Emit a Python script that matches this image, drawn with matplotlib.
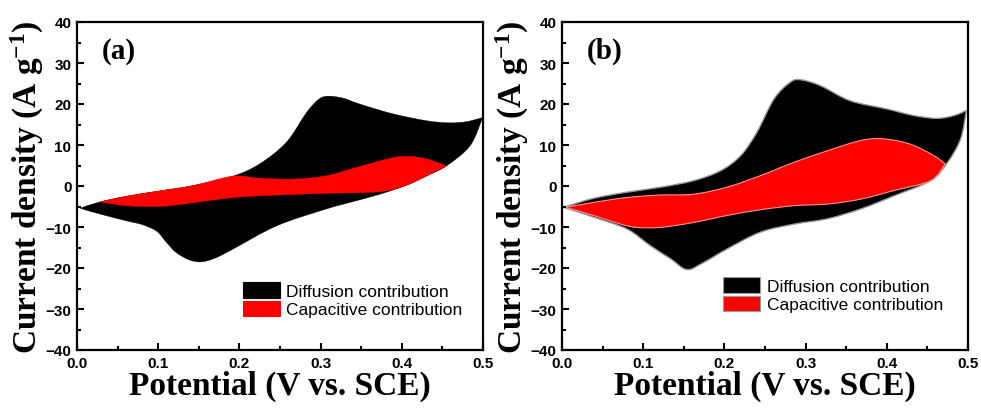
import numpy as np
import matplotlib
matplotlib.use('Agg')
from matplotlib import pyplot as plt
from matplotlib.patches import Patch, PathPatch
from matplotlib.path import Path

plt.rcParams['mathtext.fontset'] = 'custom'
plt.rcParams['mathtext.bf'] = 'Liberation Serif:bold'
plt.rcParams['mathtext.rm'] = 'Liberation Serif:bold'
plt.rcParams['mathtext.default'] = 'bf'

# full CV loop (a): anodic sweep 0 -> 0.5 V, then cathodic sweep back
a_up_v = [0.004, 0.028, 0.061, 0.102, 0.143, 0.192, 0.225, 0.258, 0.283, 0.298, 0.310,
          0.328, 0.348, 0.389, 0.431, 0.459, 0.480, 0.4996]
a_up_i = [-5.4, -3.9, -2.5, -1.2, 0.1, 2.4, 5.4, 10.7, 18.0, 21.2, 21.9,
          21.4, 20.0, 17.6, 15.9, 15.4, 15.7, 16.7]
a_down_v = [0.4996, 0.484, 0.455, 0.431, 0.406, 0.373, 0.340, 0.307, 0.246, 0.192, 0.170,
            0.153, 0.138, 0.122, 0.110, 0.098, 0.080, 0.061, 0.020, 0.004]
a_down_i = [16.7, 9.8, 4.9, 2.5, 0.2, -2.0, -3.8, -5.6, -9.7, -15.4, -17.6,
            -18.5, -18.0, -16.2, -13.7, -11.0, -9.4, -8.5, -6.4, -5.4]

# capacitive part (a)
a_cap_up_v = [0.028, 0.061, 0.102, 0.143, 0.192, 0.225, 0.266, 0.307, 0.349, 0.389, 0.410,
              0.431, 0.455]
a_cap_up_i = [-3.9, -2.5, -1.2, 0.1, 2.4, 1.9, 1.7, 2.5, 4.8, 6.9, 7.2,
              6.6, 4.9]
a_cap_down_v = [0.455, 0.431, 0.406, 0.373, 0.307, 0.225, 0.184, 0.143, 0.102, 0.061, 0.028]
a_cap_down_i = [4.9, 2.5, 0.2, -1.4, -1.8, -2.4, -3.0, -4.1, -5.0, -4.8, -3.9]

# full CV loop (b)
b_up_v = [0.002, 0.039, 0.080, 0.121, 0.162, 0.195, 0.220, 0.240, 0.261, 0.281, 0.294,
          0.318, 0.355, 0.400, 0.433, 0.462, 0.483, 0.498]
b_up_i = [-5.2, -3.0, -1.5, -0.3, 1.3, 3.7, 7.4, 13.1, 21.2, 25.3, 25.9,
          24.5, 20.8, 18.8, 17.2, 16.5, 17.2, 18.4]
b_down_v = [0.498, 0.491, 0.475, 0.454, 0.409, 0.368, 0.327, 0.286, 0.244, 0.203, 0.175,
            0.154, 0.134, 0.109, 0.080, 0.039, 0.002]
b_down_i = [18.4, 11.5, 5.8, 1.3, -2.4, -5.6, -8.0, -9.3, -11.3, -15.4, -18.6,
            -20.4, -17.8, -14.6, -10.5, -7.6, -5.2]

# capacitive part (b)
b_cap_up_v = [0.004, 0.039, 0.080, 0.121, 0.162, 0.203, 0.244, 0.286, 0.327, 0.368, 0.396,
              0.429, 0.458, 0.472]
b_cap_up_i = [-5.2, -4.0, -2.8, -2.2, -2.0, -0.3, 2.5, 5.8, 8.6, 11.1, 11.5,
              10.2, 7.4, 5.4]
b_cap_down_v = [0.472, 0.454, 0.409, 0.368, 0.327, 0.286, 0.244, 0.203, 0.162, 0.121, 0.092,
                0.072, 0.039, 0.004]
b_cap_down_i = [5.4, 1.3, -1.1, -3.2, -4.4, -4.8, -5.8, -7.2, -8.9, -10.1, -10.1,
                -9.3, -7.2, -5.2]

legend_labels = ['Diffusion contribution', 'Capacitive contribution']
panel_labels = ['(a)', '(b)']

serif = 'Liberation Serif'
sans = 'Liberation Sans'


def smooth_loop(branches):
    # closed path; each branch drawn as Catmull-Rom style bezier through its points
    verts, codes = [], []
    for k, (xs, ys) in enumerate(branches):
        p = np.column_stack([xs, ys]).astype(float)
        if k == 0:
            verts.append(p[0])
            codes.append(Path.MOVETO)
        ext = np.vstack([p[0], p, p[-1]])
        for j in range(len(p) - 1):
            p0, p1, p2, p3 = ext[j], ext[j + 1], ext[j + 2], ext[j + 3]
            verts += [p1 + (p2 - p0) / 6, p2 - (p3 - p1) / 6, p2]
            codes += [Path.CURVE4] * 3
    verts.append(verts[0])
    codes.append(Path.CLOSEPOLY)
    return Path(verts, codes)


fig = plt.figure(figsize=(9.81, 4.10), dpi=100)
ax_a = fig.add_axes([77 / 981, 59 / 410, 406 / 981, 328 / 410])
ax_b = fig.add_axes([562 / 981, 59 / 410, 406 / 981, 328 / 410])

panels = [
    (ax_a, [(a_up_v, a_up_i), (a_down_v, a_down_i)],
     [(a_cap_up_v, a_cap_up_i), (a_cap_down_v, a_cap_down_i)], None, None, (0.409, 0.207)),
    (ax_b, [(b_up_v, b_up_i), (b_down_v, b_down_i)],
     [(b_cap_up_v, b_cap_up_i), (b_cap_down_v, b_cap_down_i)], '#9a9a9a', '#ff9090', (0.397, 0.222)),
]

for i, (ax, full, cap, kedge, redge, leg_pos) in enumerate(panels):
    ax.add_patch(PathPatch(smooth_loop(full), facecolor='black',
                           edgecolor=kedge if kedge else 'black', lw=1.0 if kedge else 0.3))
    ax.add_patch(PathPatch(smooth_loop(cap), facecolor='#ff0000',
                           edgecolor=redge if redge else '#ff0000', lw=0.8 if redge else 0.3))

    ax.set_xlim(0, 0.5)
    ax.set_ylim(-40, 40)
    ax.set_xticks(np.arange(0, 0.51, 0.1))
    ax.set_xticks(np.arange(0.05, 0.5, 0.1), minor=True)
    ax.set_yticks(np.arange(-40, 41, 10))
    ax.set_yticks(np.arange(-35, 40, 10), minor=True)
    ax.xaxis.set_major_formatter(matplotlib.ticker.FormatStrFormatter('%.1f'))
    ax.tick_params(which='both', direction='in', top=False, right=False, width=1.5)
    ax.tick_params(which='major', length=5, pad=4)
    ax.tick_params(which='minor', length=3)
    for lab in ax.get_xticklabels() + ax.get_yticklabels():
        lab.set_fontfamily(sans)
        lab.set_fontweight('bold')
        lab.set_fontsize(11)
    for sp in ax.spines.values():
        sp.set_linewidth(1.6)

    ax.set_xlabel('Potential (V vs. SCE)', fontfamily=serif, fontweight='bold',
                  fontsize=24, labelpad=0)
    ax.set_ylabel(r'Current density (A g$^{-1}$)', fontfamily=serif,
                  fontweight='bold', fontsize=24, labelpad=0)
    ax.text(0.03, 33, panel_labels[i], fontfamily=serif, fontweight='bold',
            fontsize=21, va='center', ha='left')

    handles = [Patch(facecolor='black', edgecolor=kedge if kedge else 'black', lw=0.8),
               Patch(facecolor='#ff0000', edgecolor=kedge if kedge else '#ff0000', lw=0.8)]
    ax.legend(handles, legend_labels, loc='upper left', bbox_to_anchor=leg_pos,
              frameon=False, borderpad=0, borderaxespad=0,
              prop={'family': sans, 'size': 12.5},
              handlelength=2.1, handleheight=1.0, handletextpad=0.4, labelspacing=0.1)

fig.savefig('out.png', dpi=100)
